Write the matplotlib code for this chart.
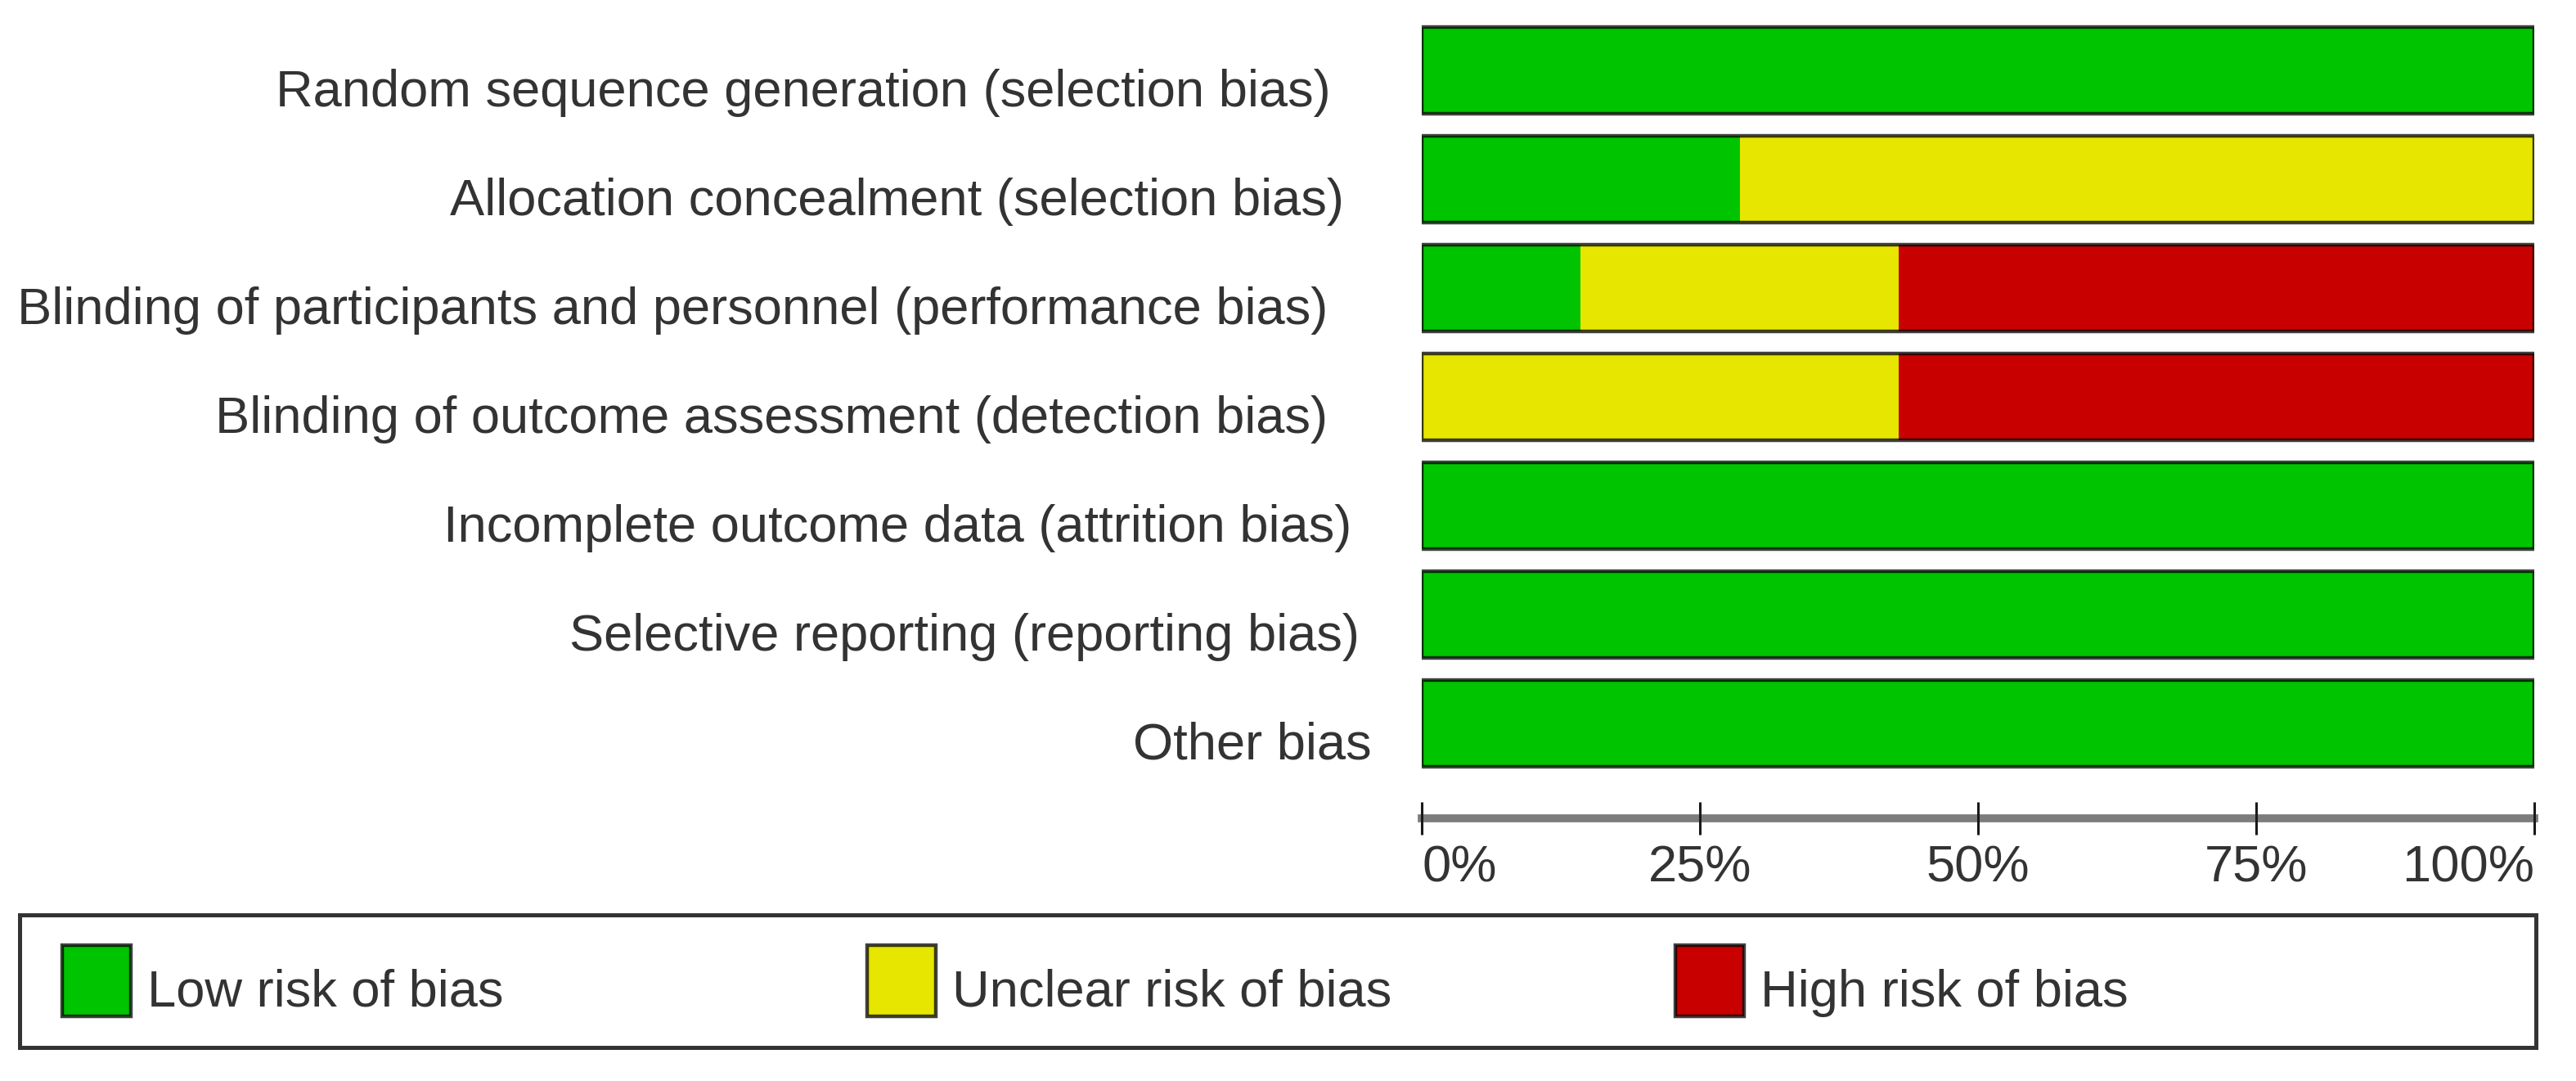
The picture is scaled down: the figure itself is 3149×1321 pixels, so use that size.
import numpy as np
import matplotlib
matplotlib.use("Agg")
import matplotlib.pyplot as plt
from matplotlib.patches import Rectangle
from matplotlib.transforms import blended_transform_factory

plt.rcParams['font.family'] = ['Liberation Sans', 'DejaVu Sans']

# risk of bias domains (top to bottom)
domains = [
    'Random sequence generation (selection bias)',
    'Allocation concealment (selection bias)',
    'Blinding of participants and personnel (performance bias)',
    'Blinding of outcome assessment (detection bias)',
    'Incomplete outcome data (attrition bias)',
    'Selective reporting (reporting bias)',
    'Other bias',
]
# percentage of studies in each judgement
low = [100, 28.6, 14.3, 0, 100, 100, 100]
unclear = [0, 71.4, 28.6, 42.9, 0, 0, 0]
high = [0, 0, 57.1, 57.1, 0, 0, 0]

tick_vals = [0, 25, 50, 75, 100]
tick_labels = ['0%', '25%', '50%', '75%', '100%']
legend_labels = ['Low risk of bias', 'Unclear risk of bias', 'High risk of bias']

green = '#00c400'
yellow = '#e6e600'
red = '#c80000'
txt = '#333333'
fs = 45.5

W, H = 3149, 1321
fig = plt.figure(figsize=(W / 100, H / 100), dpi=100)
ax = fig.add_axes([1738 / W, 1 - 1000 / H, 1360 / W, (1000 - 19.5) / H])

y = np.arange(len(domains))
low = np.array(low)
unclear = np.array(unclear)
high = np.array(high)
bh = 0.79
ax.barh(y, low, height=bh, color=green, linewidth=0)
ax.barh(y, unclear, left=low, height=bh, color=yellow, linewidth=0)
ax.barh(y, high, left=low + unclear, height=bh, color=red, linewidth=0)
# dark outline around each whole bar
ax.barh(y, low + unclear + high, height=bh, fill=False,
        edgecolor=(0, 0, 0, 0.75), linewidth=3.2)

ax.set_xlim(0, 100)
ax.set_ylim(6.872, -0.5)

# the labels in the source image are not quite aligned on the right
label_right = [1627, 1643, 1623, 1623, 1652, 1662, 1677]
ax.set_yticks([])
tr = blended_transform_factory(fig.transFigure, ax.transData)
for yi, lab, xr in zip(y, domains, label_right):
    ax.text(xr / W, yi + 0.33, lab, fontsize=fs, color=txt, ha='right',
            va='baseline', transform=tr)

ax.set_xticks(tick_vals)
ax.set_xticklabels(tick_labels, fontsize=fs, color=txt)
ax.tick_params(axis='x', direction='inout', length=29, width=2.2,
               color='#1a1a1a', pad=8)
xl = ax.get_xticklabels()
xl[0].set_ha('left')
xl[-1].set_ha('right')

for s in ['top', 'right', 'left']:
    ax.spines[s].set_visible(False)
ax.spines['bottom'].set_color('#7c7c7c')
ax.spines['bottom'].set_linewidth(7)
ax.spines['bottom'].set_zorder(1)
ax.xaxis.set_zorder(3)

# legend box
lax = fig.add_axes([24 / W, 1 - 1280 / H, 3076 / W, 162 / H])
lax.set_xlim(0, 3076)
lax.set_ylim(0, 162)
lax.set_xticks([])
lax.set_yticks([])
for s in lax.spines.values():
    s.set_linewidth(3.6)
    s.set_color('#333333')
starts = [52, 1036, 2024]
for x0, col, lab in zip(starts, [green, yellow, red], legend_labels):
    lax.add_patch(Rectangle((x0, 38), 84, 87, facecolor=col,
                            edgecolor=(0, 0, 0, 0.75), linewidth=3.2))
    lax.text(x0 + 104, 50, lab, fontsize=fs, color=txt, va='baseline', ha='left')

fig.savefig('out.png', dpi=100, facecolor='white')
